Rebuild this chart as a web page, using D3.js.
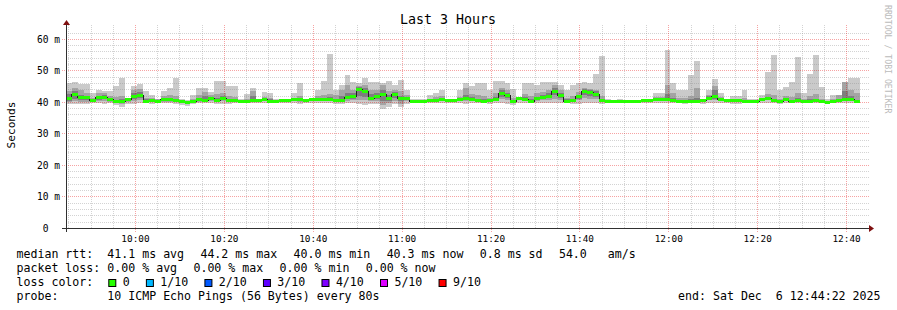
<!DOCTYPE html>
<html><head><meta charset="utf-8">
<script src="https://cdn.jsdelivr.net/npm/d3@7"></script>
<style>
html,body{margin:0;padding:0;background:#fff;}
svg{display:block;}
text{font-family:"DejaVu Sans Mono",monospace;white-space:pre;}
</style>
</head><body>
<svg id="chart" width="897" height="310"></svg>
<script>
// ---------------- data ----------------
const title = "Last 3 Hours";
const yAxisLabel = "Seconds";
const creditText = "RRDTOOL / TOBI OETIKER";
const startTime = new Date(2025, 11, 6, 9, 44, 22);
const endTime = new Date(2025, 11, 6, 12, 44, 22);
const stepSeconds = 80;

// median RTT per 80 s step (ms)
const median = [
 41.2,42.4,41.4,41.4,40.6,41.4,41.6,41.0,40.4,40.4,
 41.0,41.7,42.2,40.4,40.6,40.4,40.8,40.8,40.6,40.1,
 40.0,40.3,40.8,40.6,41.2,40.6,41.2,40.6,40.6,40.3,
 40.4,40.6,40.6,40.8,40.4,40.3,40.6,40.6,40.8,40.8,
 40.6,41.0,41.0,40.8,41.0,40.6,40.6,41.5,41.9,44.1,
 43.5,41.2,41.7,42.5,41.2,42.5,41.2,41.2,40.4,40.3,
 40.4,40.6,40.6,41.0,40.6,40.6,41.0,41.2,41.0,40.6,
 40.4,40.6,41.0,42.8,42.2,40.3,41.2,41.0,40.4,41.2,
 41.4,41.9,43.5,42.2,40.4,40.6,41.7,43.5,43.1,42.5,
 40.6,40.4,40.3,40.4,40.3,40.3,40.3,40.6,40.6,41.0,
 41.0,41.0,40.6,40.4,40.4,40.4,40.4,40.6,41.2,41.7,
 41.0,40.6,40.6,40.6,40.4,40.3,40.4,41.0,41.2,40.6,
 40.4,41.0,40.3,40.6,40.4,40.4,40.6,40.2,40.0,40.1,
 40.5,40.9,40.9,40.3];

// outer smoke: slowest ping (top) and fastest ping (bottom)
const pingMax = [
 46.1,46.4,45.7,45.7,42.8,43.9,43.5,43.5,45.1,47.7,
 41.5,45.1,45.7,43.5,42.2,41.2,43.7,44.4,47.7,41.2,
 40.8,42.2,44.4,44.4,43.3,46.9,46.9,45.1,45.1,41.2,
 42.6,44.4,41.2,43.3,43.1,41.2,41.2,41.2,43.1,46.0,
 41.2,41.5,43.8,46.9,55.2,43.8,45.6,48.8,46.5,46.2,
 47.8,46.5,46.5,46.0,46.7,45.6,47.0,43.8,41.2,41.0,
 41.2,42.2,43.1,44.0,41.2,41.2,43.8,46.0,45.1,46.0,
 46.0,43.8,46.8,46.8,46.0,44.1,41.8,46.2,46.2,45.6,
 46.5,46.5,46.5,45.4,43.8,45.4,46.2,46.5,46.2,49.1,
 54.6,41.0,40.8,41.0,40.8,40.8,40.8,41.2,41.2,42.8,
 43.0,56.6,46.0,43.8,43.8,48.6,53.2,41.2,44.0,47.3,
 43.1,41.2,42.0,42.0,43.8,41.0,41.2,42.2,49.7,55.0,
 43.8,44.9,46.5,54.5,42.8,49.1,55.0,44.9,41.0,42.2,
 42.4,46.5,47.6,47.6];
const pingMin = [
 39.5,39.5,39.6,39.6,39.8,39.7,39.6,39.7,39.0,38.6,
 39.5,39.6,39.7,39.8,39.6,39.8,39.8,39.7,39.6,39.2,
 38.9,39.4,39.8,39.8,39.7,39.5,39.6,39.6,39.7,39.7,
 39.8,39.7,39.8,39.8,39.7,39.8,39.8,39.7,39.9,39.6,
 39.7,39.9,39.8,39.7,39.7,39.6,39.6,39.7,39.8,39.6,
 39.2,39.5,39.5,37.8,38.6,39.4,38.5,39.6,39.8,39.8,
 39.8,39.7,39.8,39.8,39.9,39.8,39.8,39.6,39.7,39.8,
 39.8,39.6,39.8,39.8,39.6,39.3,39.7,39.8,39.8,39.7,
 39.7,39.8,39.7,39.8,39.8,39.5,39.6,39.8,39.8,39.8,
 39.5,39.8,39.8,39.9,39.8,39.9,39.9,39.8,39.7,39.8,
 39.7,39.8,39.7,39.8,39.5,39.8,39.7,39.6,39.8,39.7,
 39.8,39.7,39.5,39.6,39.7,39.8,39.7,39.8,39.8,39.7,
 39.5,39.8,39.7,39.8,39.7,39.8,39.7,39.8,39.7,39.8,
 39.7,39.8,39.8,39.8];

// second smoke layer (2nd slowest / 2nd fastest ping)
const band2Hi = [
 43.5,44.4,43.8,43.0,41.5,43.0,43.0,42.0,41.6,42.0,
 41.2,43.8,44.2,41.5,41.4,40.9,42.0,42.2,42.0,40.7,
 40.5,41.0,42.2,43.3,42.2,42.5,43.0,42.0,41.8,40.8,
 41.2,43.5,41.0,41.8,41.3,40.8,40.9,40.9,41.5,42.0,
 40.9,41.3,42.0,42.2,42.5,42.2,43.8,45.4,44.0,45.2,
 45.4,44.0,43.8,45.4,43.5,44.0,43.5,42.2,40.8,40.6,
 40.8,41.2,41.6,42.0,40.9,40.9,41.8,44.4,42.5,42.2,
 42.0,41.5,43.0,44.4,43.8,41.5,41.5,42.5,42.0,43.0,
 43.3,43.8,45.4,43.8,41.5,42.0,43.3,44.5,44.2,44.0,
 42.0,40.7,40.6,40.7,40.6,40.6,40.6,40.9,40.9,41.6,
 41.8,45.4,42.8,41.5,41.5,42.0,44.6,40.9,42.4,45.2,
 41.8,40.9,41.2,41.2,41.5,40.6,40.8,41.5,42.5,42.2,
 41.2,42.0,41.8,43.0,41.0,42.0,42.5,41.2,40.5,40.9,
 42.4,46.3,44.0,43.0];
const band2Lo = [
 40.0,40.3,40.2,40.2,40.1,40.3,40.3,40.2,39.8,39.6,
 40.1,40.5,40.6,40.0,40.0,40.0,40.2,40.2,40.0,39.7,
 39.6,39.9,40.2,40.1,40.4,40.0,40.4,40.1,40.1,40.0,
 40.1,40.1,40.2,40.3,40.1,40.0,40.2,40.2,40.4,40.2,
 40.2,40.5,40.4,40.3,40.4,40.1,40.1,40.5,40.6,40.8,
 40.8,40.3,40.5,39.2,39.8,40.5,39.6,40.5,40.1,40.0,
 40.1,40.2,40.2,40.5,40.2,40.2,40.4,40.4,40.4,40.2,
 40.1,40.2,40.4,40.9,40.8,39.9,40.6,40.4,40.1,40.5,
 40.6,40.8,41.2,40.8,40.1,40.1,40.8,41.4,41.2,41.0,
 40.2,40.1,40.1,40.2,40.1,40.1,40.1,40.3,40.3,40.6,
 40.5,40.6,40.2,40.1,40.1,40.1,40.1,40.3,40.6,40.8,
 40.5,40.3,40.2,40.2,40.1,40.1,40.1,40.5,40.6,40.2,
 40.1,40.5,40.0,40.2,40.1,40.1,40.2,39.9,39.8,39.9,
 40.1,40.4,40.4,40.0];

// third smoke layer (3rd slowest / 3rd fastest ping)
const band3Hi = [
 42.5,43.5,42.2,42.0,41.0,42.0,42.3,41.5,40.8,40.9,
 41.4,42.8,43.2,40.9,41.0,40.7,41.2,41.4,41.1,40.4,
 40.3,40.7,41.4,42.0,41.7,41.4,42.0,41.2,41.1,40.6,
 40.8,42.0,40.9,41.3,40.9,40.6,40.8,40.8,41.2,41.3,
 40.8,41.2,41.5,41.4,41.6,41.2,42.0,42.8,43.0,44.8,
 44.4,42.5,42.8,43.8,42.2,43.4,42.0,41.8,40.7,40.5,
 40.7,40.9,41.0,41.5,40.8,40.8,41.3,42.2,41.6,41.2,
 40.9,41.0,41.8,43.8,43.0,40.8,41.4,41.6,41.0,41.8,
 42.2,42.8,44.5,43.0,40.9,41.2,42.4,44.3,44.0,43.5,
 41.2,40.6,40.5,40.6,40.5,40.5,40.5,40.8,40.8,41.3,
 41.4,42.5,41.5,40.8,40.8,41.0,41.5,40.8,41.9,43.8,
 41.4,40.9,40.9,40.9,40.8,40.5,40.7,41.3,41.7,41.2,
 40.8,41.4,40.8,41.3,40.7,40.9,41.2,40.6,40.4,40.5,
 41.0,43.5,42.0,40.7];
const band3Lo = [
 40.5,41.0,40.7,40.8,40.3,40.8,40.9,40.6,40.1,40.0,
 40.5,41.0,41.4,40.1,40.3,40.2,40.5,40.5,40.3,39.9,
 39.8,40.1,40.5,40.3,40.8,40.3,40.8,40.3,40.3,40.1,
 40.2,40.3,40.4,40.5,40.2,40.1,40.4,40.4,40.6,40.5,
 40.4,40.7,40.7,40.5,40.7,40.3,40.3,40.9,41.2,42.0,
 41.8,40.7,41.0,40.5,40.5,41.4,40.3,40.8,40.2,40.1,
 40.2,40.4,40.4,40.7,40.4,40.4,40.7,40.8,40.7,40.4,
 40.2,40.4,40.7,41.6,41.4,40.1,40.9,40.7,40.2,40.9,
 41.0,41.3,42.2,41.5,40.2,40.4,41.2,42.4,42.0,41.7,
 40.4,40.2,40.1,40.2,40.1,40.1,40.1,40.4,40.4,40.8,
 40.8,40.8,40.4,40.2,40.2,40.2,40.2,40.4,40.9,41.2,
 40.7,40.4,40.4,40.4,40.2,40.1,40.2,40.7,40.9,40.4,
 40.2,40.7,40.1,40.4,40.2,40.2,40.4,40.0,39.8,39.9,
 40.2,40.6,40.6,40.1];

const yTickValues = [0, 10, 20, 30, 40, 50, 60];
const yTickLabels = ["0  ", "10 m", "20 m", "30 m", "40 m", "50 m", "60 m"];

const rttLabel = "median rtt:";
const rttItems = ["41.1 ms avg", "44.2 ms max", "40.0 ms min", "40.3 ms now", "0.8 ms sd", "54.0   am/s"];
const lossLabel = "packet loss:";
const lossItems = ["0.00 % avg", "0.00 % max", "0.00 % min", "0.00 % now"];
const lossColorLabel = "loss color:";
const lossLevels = ["0", "1/10", "2/10", "3/10", "4/10", "5/10", "9/10"];
const lossColors = ["#26ff00", "#00b8ff", "#0059ff", "#5e00ff", "#7e00ff", "#dd00ff", "#ff0000"];
const probeLabel = "probe:";
const probeText = "10 ICMP Echo Pings (56 Bytes) every 80s";
const endText = "end: Sat Dec  6 12:44:22 2025";

// ---------------- drawing ----------------
const svg = d3.select("#chart");
const W = 897, H = 310;
svg.append("rect").attr("width", W).attr("height", H).attr("fill", "#ffffff");

const x = d3.scaleTime().domain([startTime, endTime]).range([66, 866]);
const y = d3.scaleLinear().domain([0, 64]).range([228.3, 26.7]);
const n = median.length;
const tAt = i => new Date(startTime.getTime() + i * stepSeconds * 1000);
const idx = d3.range(n + 1);
const val = (arr, i) => arr[Math.min(i, n - 1)];

// smoke layers
const smoke = [
  [pingMin, pingMax, "#cacaca"],
  [band2Lo, band2Hi, "#a4a4a4"],
  [band3Lo, band3Hi, "#7e7e7e"]
];
smoke.forEach(([lo, hi, col]) => {
  const area = d3.area().curve(d3.curveStepAfter)
    .x(i => x(tAt(i)))
    .y0(i => y(val(lo, i)))
    .y1(i => y(val(hi, i)));
  svg.append("path").datum(idx).attr("d", area).attr("fill", col)
    .attr("shape-rendering", "crispEdges");
});

// grid
const plotLeft = 66, plotRight = 869, plotTop = 25, plotBottom = 228.5;
const minorCol = "rgba(140,140,140,0.38)", majorCol = "rgba(230,0,0,0.36)";
const grid = svg.append("g");
const minorY = d3.range(2, 64, 2).filter(v => v % 10 !== 0);
grid.selectAll(".hmin").data(minorY).join("line")
  .attr("x1", plotLeft).attr("x2", plotRight)
  .attr("y1", v => Math.floor(y(v)) + 0.5).attr("y2", v => Math.floor(y(v)) + 0.5)
  .attr("stroke", minorCol).attr("stroke-dasharray", "1,1");
const minorX = d3.timeMinute.every(5).range(startTime, endTime).filter(d => d.getMinutes() % 20 !== 0);
grid.selectAll(".vmin").data(minorX).join("line")
  .attr("x1", d => Math.floor(x(d)) + 0.5).attr("x2", d => Math.floor(x(d)) + 0.5)
  .attr("y1", plotTop).attr("y2", plotBottom)
  .attr("stroke", minorCol).attr("stroke-dasharray", "1,1");
const majorY = yTickValues.filter(v => v > 0);
grid.selectAll(".hmaj").data(majorY).join("line")
  .attr("x1", 62).attr("x2", plotRight)
  .attr("y1", v => Math.floor(y(v)) + 0.5).attr("y2", v => Math.floor(y(v)) + 0.5)
  .attr("stroke", majorCol).attr("stroke-dasharray", "1,1");
const majorX = d3.timeMinute.every(20).range(startTime, endTime);
grid.selectAll(".vmaj").data(majorX).join("line")
  .attr("x1", d => Math.floor(x(d)) + 0.5).attr("x2", d => Math.floor(x(d)) + 0.5)
  .attr("y1", plotTop).attr("y2", 232)
  .attr("stroke", majorCol).attr("stroke-dasharray", "1,1");

// median line + loss-colour band
const medLine = d3.line().curve(d3.curveStepAfter)
  .x(i => x(tAt(i))).y(i => Math.floor(y(val(median, i))) + 0.5);
svg.append("path").datum(idx).attr("d", medLine).attr("fill", "none")
  .attr("stroke", "#202020").attr("stroke-width", 1).attr("shape-rendering", "crispEdges");
const band = d3.area().curve(d3.curveStepAfter)
  .x(i => x(tAt(i)))
  .y0(i => Math.floor(y(val(median, i))) + 2)
  .y1(i => Math.floor(y(val(median, i))) - 1);
svg.append("path").datum(idx).attr("d", band).attr("fill", lossColors[0])
  .attr("shape-rendering", "crispEdges");

// axes
const axisCol = "#303030", arrowCol = "#7f1010";
svg.append("line").attr("x1", 62).attr("x2", 870).attr("y1", 228.5).attr("y2", 228.5)
  .attr("stroke", axisCol);
svg.append("line").attr("x1", 66.5).attr("x2", 66.5).attr("y1", 232).attr("y2", 24)
  .attr("stroke", axisCol);
svg.append("path").attr("d", "M869,225 L874,228.5 L869,232 Z").attr("fill", arrowCol);
svg.append("path").attr("d", "M63,25 L66.5,20 L70,25 Z").attr("fill", arrowCol);

// y tick labels
svg.append("g").selectAll("text").data(yTickValues).join("text")
  .attr("x", 60).attr("y", v => y(v) + 3.6)
  .attr("text-anchor", "end").attr("font-size", "9.6px").attr("fill", "#000")
  .text((v, i) => yTickLabels[i]);

// x tick labels
const fmt = d3.timeFormat("%H:%M");
svg.append("g").selectAll("text").data(majorX).join("text")
  .attr("x", d => x(d)).attr("y", 242)
  .attr("text-anchor", "middle").attr("font-size", "9.4px").attr("fill", "#000")
  .text(d => fmt(d));

// title & labels
svg.append("text").attr("x", 448).attr("y", 24).attr("text-anchor", "middle")
  .attr("font-size", "13.3px").attr("fill", "#000").text(title);
svg.append("text").attr("transform", "translate(15,125) rotate(-90)")
  .attr("text-anchor", "middle").attr("font-size", "11.2px").attr("fill", "#000").text(yAxisLabel);
svg.append("text").attr("transform", "translate(885,5) rotate(90)")
  .attr("text-anchor", "start").attr("font-size", "8.2px").attr("fill", "#bbbbbb").text(creditText);

// legend
const fs = 11.6, cw = fs * 0.602, gap = 16.3, labelX = 16.5, valX = 107.3;
const rows = [258, 272, 286, 300];
const leg = svg.append("g").attr("font-size", fs + "px").attr("fill", "#000");
function itemRow(label, items, yy) {
  leg.append("text").attr("x", labelX).attr("y", yy).text(label);
  let cx = valX;
  items.forEach(t => {
    leg.append("text").attr("x", cx).attr("y", yy).text(t);
    cx += t.length * cw + gap;
  });
}
itemRow(rttLabel, rttItems, rows[0]);
itemRow(lossLabel, lossItems, rows[1]);
leg.append("text").attr("x", labelX).attr("y", rows[2]).text(lossColorLabel);
let lx = valX;
lossLevels.forEach((t, i) => {
  leg.append("rect").attr("x", lx + 1.5).attr("y", rows[2] - 6.5).attr("width", 7).attr("height", 7)
    .attr("fill", lossColors[i]).attr("stroke", "#000").attr("stroke-width", 1);
  leg.append("text").attr("x", lx + 15.4).attr("y", rows[2]).text(t);
  lx += 15.4 + t.length * cw + 15.2;
});
leg.append("text").attr("x", labelX).attr("y", rows[3]).text(probeLabel);
leg.append("text").attr("x", valX).attr("y", rows[3]).text(probeText);
leg.append("text").attr("x", 880.5).attr("y", rows[3]).attr("text-anchor", "end").text(endText);
</script>
</body></html>
